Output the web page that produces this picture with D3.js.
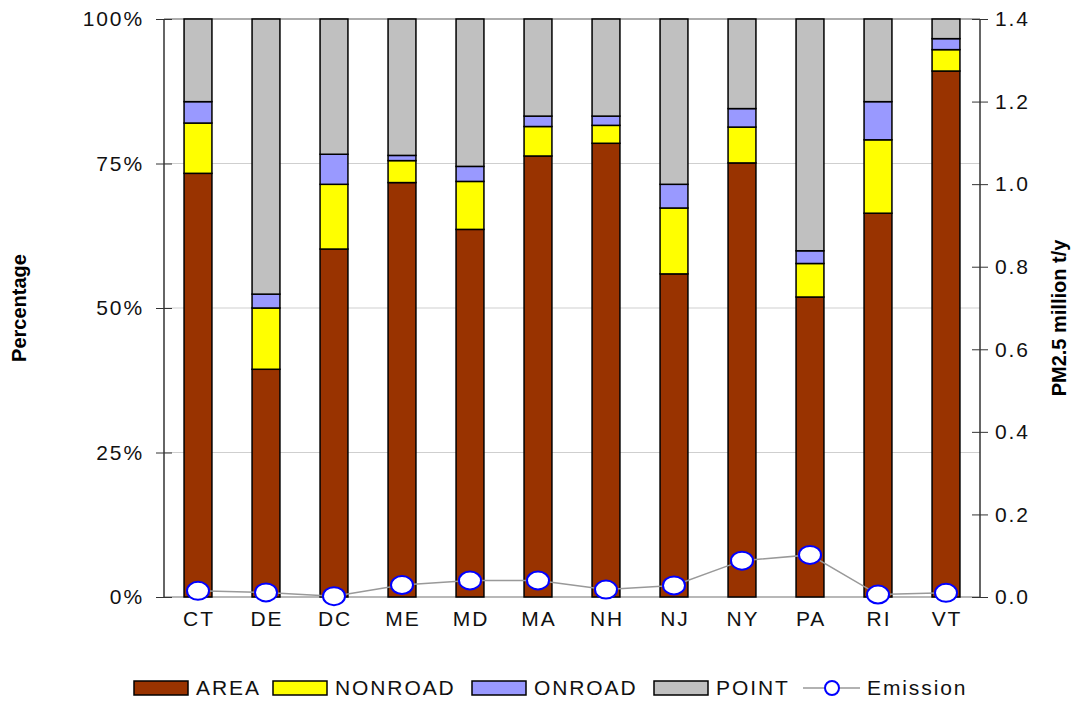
<!DOCTYPE html>
<html>
<head>
<meta charset="utf-8">
<script src="https://cdn.jsdelivr.net/npm/d3@7"></script>
<style>
  html, body { margin: 0; padding: 0; background: #fff; }
  svg { display: block; font-family: Arial, "Liberation Sans", sans-serif; }
</style>
</head>
<body>
<svg id="chart" width="1075" height="703"></svg>
<script>
const categories = ["CT","DE","DC","ME","MD","MA","NH","NJ","NY","PA","RI","VT"];
const seriesNames = ["AREA","NONROAD","ONROAD","POINT"];
const area    = [73.3, 39.4, 60.2, 71.7, 63.6, 76.3, 78.5, 55.9, 75.1, 51.9, 66.4, 91.0];
const nonroad = [ 8.7, 10.6, 11.2,  3.8,  8.3,  5.1,  3.1, 11.4,  6.2,  5.8, 12.7,  3.7];
const onroad  = [ 3.7,  2.4,  5.2,  0.9,  2.6,  1.8,  1.6,  4.1,  3.2,  2.2,  6.6,  1.9];
const point   = [14.3, 47.6, 23.4, 23.6, 25.5, 16.8, 16.8, 28.6, 15.5, 40.1, 14.3,  3.4];
const emission = [0.015, 0.011, 0.002, 0.029, 0.040, 0.040, 0.018, 0.028, 0.088, 0.102, 0.006, 0.010];
const leftTicks = [0, 25, 50, 75, 100];
const rightTicks = [0, 0.2, 0.4, 0.6, 0.8, 1.0, 1.2, 1.4];
const colors = ["#993300", "#FFFF00", "#9999FF", "#C0C0C0"];

const rows = categories.map((c, i) => ({cat: c, AREA: area[i], NONROAD: nonroad[i], ONROAD: onroad[i], POINT: point[i], emission: emission[i]}));

const svg = d3.select("#chart");
const L = 164, R = 980, T = 19, B = 597;
const FS = 21, LS = "1.9px";
const FF = "Arial, 'Liberation Sans', sans-serif";

const x = d3.scaleBand().domain(categories).range([L, R]).paddingInner(0.59).paddingOuter(0.295);
const y = d3.scaleLinear().domain([0, 100]).range([B, T]);
const y2 = d3.scaleLinear().domain([0, 1.4]).range([B, T]);

// gridlines
svg.append("g").selectAll("line").data([25, 50, 75]).join("line")
  .attr("x1", L).attr("x2", R).attr("y1", d => y(d)).attr("y2", d => y(d))
  .attr("stroke", "#cfcfcf").attr("stroke-width", 1);
svg.append("line").attr("x1", L).attr("x2", R).attr("y1", y(100)).attr("y2", y(100)).attr("stroke", "#909090").attr("stroke-width", 1.5);
svg.append("line").attr("x1", L).attr("x2", R).attr("y1", y(0)).attr("y2", y(0)).attr("stroke", "#a0a0a0").attr("stroke-width", 1.5);

// stacked bars
const stack = d3.stack().keys(seriesNames)(rows);
svg.append("g").selectAll("g").data(stack).join("g")
  .attr("fill", (d, i) => colors[i])
  .selectAll("rect").data(d => d).join("rect")
  .attr("x", d => x(d.data.cat))
  .attr("width", x.bandwidth())
  .attr("y", d => y(d[1]))
  .attr("height", d => y(d[0]) - y(d[1]))
  .attr("stroke", "#000").attr("stroke-width", 1.5);

function styleText(sel) {
  sel.attr("font-size", FS).attr("fill", "#111").attr("font-family", FF).style("letter-spacing", LS);
}

// left axis
const axL = svg.append("g").attr("transform", `translate(${L},0)`)
  .call(d3.axisLeft(y).tickValues(leftTicks).tickFormat(d => d + "%").tickSize(8).tickPadding(12));
axL.select(".domain").attr("stroke", "#333").attr("stroke-width", 1.5).attr("d", `M0,${T}V${B}`);
axL.selectAll(".tick line").attr("x1", -8).attr("x2", 8).attr("stroke", "#333");
styleText(axL.selectAll(".tick text"));

// right axis
const axR = svg.append("g").attr("transform", `translate(${R},0)`)
  .call(d3.axisRight(y2).tickValues(rightTicks).tickFormat(d3.format(".1f")).tickSize(8).tickPadding(7));
axR.select(".domain").attr("stroke", "#333").attr("stroke-width", 1.5).attr("d", `M0,${T}V${B}`);
axR.selectAll(".tick line").attr("x1", -8).attr("x2", 8).attr("stroke", "#333");
styleText(axR.selectAll(".tick text"));

// x labels
const axB = svg.append("g").attr("transform", `translate(0,${B})`)
  .call(d3.axisBottom(x).tickSize(0).tickPadding(14));
axB.select(".domain").remove();
styleText(axB.selectAll(".tick text"));
axB.selectAll(".tick text").attr("dx", 1);

// emission line
const line = d3.line().x(d => x(d.cat) + x.bandwidth() / 2).y(d => y2(d.emission));
svg.append("path").datum(rows).attr("d", line).attr("fill", "none").attr("stroke", "#999").attr("stroke-width", 1.5);
svg.append("g").selectAll("ellipse").data(rows).join("ellipse")
  .attr("cx", d => x(d.cat) + x.bandwidth() / 2).attr("cy", d => y2(d.emission))
  .attr("rx", 11).attr("ry", 9)
  .attr("fill", "#fff").attr("stroke", "#0000FF").attr("stroke-width", 2);

// axis titles
svg.append("text").attr("transform", `translate(26,${(T + B) / 2}) rotate(-90)`)
  .attr("text-anchor", "middle").attr("font-weight", "bold").attr("font-size", 20).attr("fill", "#000")
  .text("Percentage");
svg.append("text").attr("transform", `translate(1066,${(T + B) / 2 + 10}) rotate(-90)`)
  .attr("text-anchor", "middle").attr("font-weight", "bold").attr("font-size", 20).attr("fill", "#000")
  .text("PM2.5 million t/y");

// legend
const legY = 688;
const legItems = [
  {name: "AREA", color: colors[0], x: 134},
  {name: "NONROAD", color: colors[1], x: 273},
  {name: "ONROAD", color: colors[2], x: 472},
  {name: "POINT", color: colors[3], x: 654}
];
const lg = svg.append("g");
legItems.forEach(it => {
  lg.append("rect").attr("x", it.x).attr("y", legY - 7).attr("width", 54).attr("height", 14)
    .attr("fill", it.color).attr("stroke", "#000").attr("stroke-width", 1.5);
  styleText(lg.append("text").attr("x", it.x + 62).attr("y", legY).attr("dy", "0.35em").text(it.name));
});
lg.append("line").attr("x1", 803).attr("x2", 860).attr("y1", legY).attr("y2", legY).attr("stroke", "#999").attr("stroke-width", 1.5);
lg.append("ellipse").attr("cx", 832).attr("cy", legY).attr("rx", 7).attr("ry", 7)
  .attr("fill", "#fff").attr("stroke", "#0000FF").attr("stroke-width", 2);
styleText(lg.append("text").attr("x", 867).attr("y", legY).attr("dy", "0.35em").text("Emission"));
</script>
</body>
</html>
